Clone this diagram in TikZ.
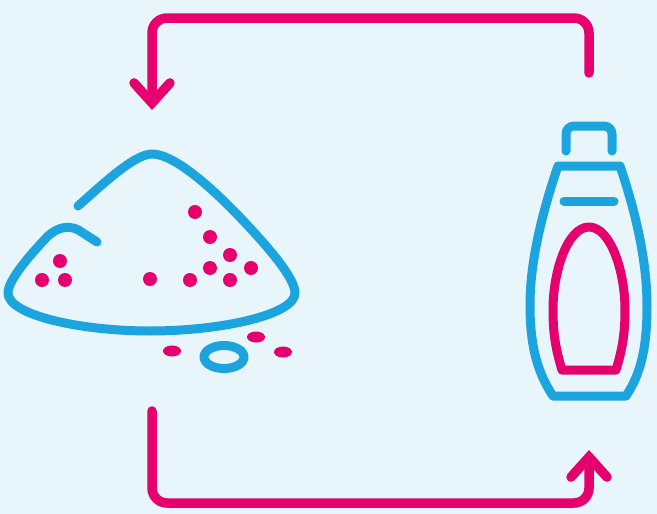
\documentclass[tikz,border=0pt]{standalone}
\usepackage{xcolor}
\usetikzlibrary{arrows.meta}
\definecolor{bgblue}{HTML}{E8F5FB}
\definecolor{iconblue}{HTML}{1CA4DF}
\definecolor{iconpink}{HTML}{E5006D}

\begin{document}
\begin{tikzpicture}[x=1pt, y=-1pt,
    outline/.style={draw=iconblue, line width=9pt, line cap=round, line join=round},
    inset/.style={draw=iconpink, line width=9pt, line join=round},
    flow/.style={draw=iconpink, line width=9.5pt, line cap=round, rounded corners=15pt,
      -{Straight Barb[length=20pt, width=36pt, line cap=round, line join=miter]}},
    grain/.style={fill=iconpink}]
  \fill[bgblue] (0,0) rectangle (657,514);

  % pile
  \draw[outline] (78,206) .. controls (105,182) and (135,154) .. (152,154)
     .. controls (175,154) and (215,190) .. (250,228)
     .. controls (275,255) and (295,280) .. (295,293)
     .. controls (295,315) and (220,331) .. (150,331)
     .. controls (80,331) and (8,315) .. (8,293)
     .. controls (8,280) and (30,255) .. (47,237)
     .. controls (58,226) and (72,224) .. (83,233)
     -- (97,242);
  \draw[outline] (224,357) ellipse [x radius=20, y radius=11.5];
  \foreach \x/\y in {195/212, 210/237, 230/255, 210/268, 251/268, 230/280,
                     190/280, 150/279, 60/261, 42/280, 65/280}
    \fill[grain] (\x,\y) circle (7);
  \foreach \x/\y in {172/351, 256/337, 283/352}
    \fill[grain] (\x,\y) ellipse [x radius=9, y radius=5.5];

  % bottle
  \draw[outline, rounded corners=8pt] (566,151) -- (566,126) -- (612,126) -- (612,151);
  \draw[outline] (558,166) -- (620,166)
     .. controls (635,210) and (647,260) .. (647,305)
     .. controls (647,345) and (642,372) .. (626,396)
     -- (553,396)
     .. controls (537,372) and (530,345) .. (530,305)
     .. controls (530,260) and (543,210) .. (558,166) -- cycle;
  \draw[outline] (564,201) -- (614,201);
  \draw[inset] (589,227) .. controls (610,227) and (625,270) .. (625,310)
     .. controls (625,335) and (622,350) .. (616,370)
     -- (562,370)
     .. controls (556,350) and (553,335) .. (553,310)
     .. controls (553,270) and (568,227) .. (589,227) -- cycle;

  % arrows
  \coordinate (backstart) at (589,73);
  \coordinate (backcorner) at (152,18);
  \coordinate (backend) at (152,110);
  \coordinate (forthstart) at (152,411);
  \coordinate (forthcorner) at (589,503);
  \coordinate (forthend) at (589,450);
  \draw[flow] (backstart) |- (backcorner) -- (backend);
  \draw[flow] (forthstart) |- (forthcorner) -- (forthend);
\end{tikzpicture}
\end{document}
